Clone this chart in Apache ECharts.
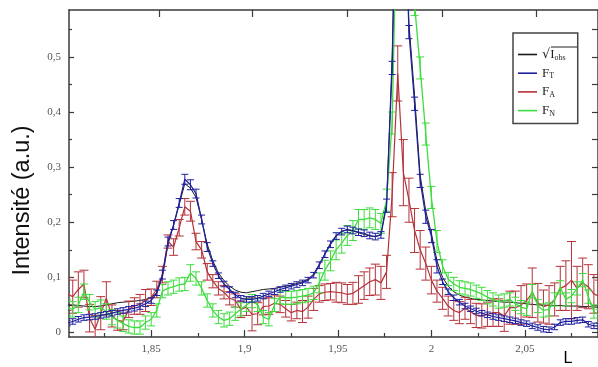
<!DOCTYPE html>
<html><head><meta charset="utf-8">
<script src="https://cdn.jsdelivr.net/npm/echarts@6/dist/echarts.min.js"></script>
<style>html,body{margin:0;padding:0;background:#fff}#c{width:598px;height:367px}</style>
</head><body><div id="c"></div>
<script>
const L = [1.805,1.808,1.811,1.814,1.817,1.820,1.823,1.826,1.829,1.832,
1.835,1.838,1.841,1.844,1.847,1.850,1.853,1.856,1.859,1.862,
1.865,1.868,1.871,1.874,1.877,1.880,1.883,1.886,1.889,1.892,
1.895,1.898,1.901,1.904,1.907,1.910,1.913,1.916,1.919,1.922,
1.925,1.928,1.931,1.934,1.937,1.940,1.943,1.946,1.949,1.952,
1.955,1.958,1.961,1.964,1.967,1.970,1.973,1.976,1.979,1.982,
1.985,1.988,1.991,1.994,1.997,2.000,2.003,2.006,2.009,2.012,
2.015,2.018,2.021,2.024,2.027,2.030,2.033,2.036,2.039,2.042,
2.045,2.048,2.051,2.054,2.057,2.060,2.063,2.066,2.069,2.072,
2.075,2.078,2.081,2.084,2.087,2.090];

const sqrtIobs = [0.050,0.050,0.049,0.048,0.047,0.047,0.048,0.050,0.052,0.054,
0.055,0.056,0.057,0.058,0.060,0.063,0.072,0.100,0.160,0.195,
0.232,0.270,0.262,0.245,0.205,0.160,0.130,0.108,0.094,0.084,
0.077,0.073,0.072,0.074,0.076,0.078,0.079,0.080,0.082,0.084,
0.086,0.089,0.092,0.097,0.106,0.124,0.143,0.162,0.176,0.184,
0.186,0.184,0.181,0.178,0.175,0.174,0.178,0.235,0.500,0.970,
0.900,0.560,0.430,0.285,0.220,0.180,0.130,0.100,0.084,0.074,
0.068,0.064,0.062,0.060,0.059,0.058,0.057,0.056,0.055,0.055,
0.054,0.053,0.052,0.051,0.050,0.050,0.049,0.049,0.049,0.048,
0.048,0.048,0.047,0.047,0.046,0.046];

const FT = [0.017,0.020,0.024,0.027,0.028,0.029,0.031,0.033,0.035,0.038,
0.040,0.042,0.044,0.047,0.052,0.058,0.072,0.105,0.165,0.195,
0.235,0.278,0.268,0.252,0.205,0.155,0.125,0.103,0.088,0.078,
0.068,0.062,0.060,0.060,0.062,0.066,0.070,0.074,0.078,0.081,
0.084,0.087,0.090,0.095,0.104,0.122,0.142,0.160,0.175,0.183,
0.187,0.185,0.182,0.180,0.176,0.174,0.177,0.230,0.480,0.950,
0.850,0.545,0.415,0.275,0.210,0.175,0.120,0.092,0.074,0.063,
0.055,0.048,0.043,0.039,0.035,0.032,0.029,0.027,0.025,0.023,
0.021,0.018,0.016,0.012,0.009,0.006,0.005,0.010,0.018,0.020,
0.020,0.022,0.023,0.015,0.012,0.012];
const FT_err = [0.005,0.005,0.005,0.005,0.005,0.005,0.005,0.005,0.005,0.005,
0.005,0.005,0.005,0.005,0.005,0.005,0.005,0.008,0.008,0.008,
0.008,0.009,0.009,0.008,0.008,0.008,0.005,0.005,0.005,0.005,
0.005,0.005,0.005,0.005,0.005,0.005,0.005,0.005,0.005,0.005,
0.005,0.005,0.005,0.005,0.005,0.006,0.006,0.006,0.006,0.006,
0.006,0.006,0.006,0.006,0.006,0.006,0.006,0.012,0.012,0.012,
0.012,0.012,0.012,0.012,0.012,0.012,0.012,0.005,0.005,0.005,
0.005,0.005,0.005,0.005,0.005,0.005,0.005,0.005,0.005,0.005,
0.005,0.005,0.005,0.005,0.005,0.005,0.005,0.005,0.005,0.005,
0.005,0.005,0.005,0.005,0.005,0.005];

const FA = [0.070,0.065,0.078,0.088,0.026,0.006,0.035,0.062,0.030,0.022,
0.020,0.042,0.048,0.051,0.058,0.064,0.078,0.105,0.165,0.155,
0.190,0.228,0.220,0.165,0.150,0.110,0.093,0.080,0.073,0.062,
0.058,0.042,0.046,0.033,0.034,0.047,0.048,0.053,0.051,0.043,
0.036,0.040,0.038,0.046,0.060,0.070,0.073,0.074,0.073,0.072,
0.069,0.071,0.078,0.085,0.092,0.096,0.090,0.110,0.250,0.470,
0.290,0.240,0.185,0.150,0.125,0.095,0.075,0.062,0.048,0.040,
0.036,0.044,0.038,0.031,0.030,0.033,0.036,0.036,0.030,0.045,
0.045,0.050,0.058,0.072,0.054,0.047,0.050,0.060,0.080,0.085,
0.095,0.080,0.090,0.083,0.070,0.065];
const FA_err = [0.030,0.030,0.032,0.025,0.025,0.025,0.030,0.030,0.020,0.018,
0.015,0.015,0.015,0.018,0.020,0.015,0.015,0.015,0.012,0.015,
0.015,0.015,0.018,0.015,0.015,0.015,0.012,0.012,0.012,0.012,
0.012,0.015,0.015,0.030,0.020,0.015,0.015,0.015,0.015,0.015,
0.015,0.015,0.020,0.020,0.020,0.015,0.015,0.015,0.018,0.018,
0.018,0.020,0.025,0.025,0.025,0.028,0.030,0.030,0.040,0.050,
0.060,0.040,0.040,0.035,0.030,0.025,0.020,0.020,0.018,0.018,
0.020,0.020,0.022,0.022,0.022,0.022,0.025,0.025,0.028,0.030,
0.030,0.035,0.030,0.045,0.035,0.030,0.035,0.030,0.040,0.045,
0.070,0.040,0.045,0.040,0.035,0.030];

const FN = [0.045,0.042,0.050,0.074,0.055,0.042,0.045,0.038,0.028,0.022,
0.016,0.011,0.009,0.009,0.018,0.024,0.040,0.075,0.080,0.083,
0.087,0.088,0.108,0.098,0.080,0.058,0.040,0.028,0.022,0.025,
0.034,0.042,0.050,0.057,0.050,0.028,0.024,0.050,0.064,0.063,
0.063,0.064,0.066,0.068,0.072,0.090,0.113,0.130,0.150,0.162,
0.176,0.185,0.205,0.205,0.208,0.205,0.198,0.240,0.380,0.850,
0.950,0.700,0.595,0.480,0.360,0.245,0.165,0.120,0.097,0.088,
0.082,0.080,0.078,0.074,0.070,0.064,0.060,0.056,0.058,0.060,
0.052,0.046,0.043,0.075,0.048,0.040,0.042,0.060,0.082,0.060,
0.066,0.080,0.095,0.065,0.038,0.030];
const FN_err = [0.014,0.014,0.014,0.014,0.014,0.014,0.014,0.014,0.014,0.014,
0.014,0.012,0.012,0.012,0.012,0.012,0.012,0.012,0.012,0.012,
0.012,0.012,0.015,0.012,0.012,0.012,0.012,0.012,0.012,0.012,
0.012,0.012,0.012,0.012,0.012,0.012,0.012,0.012,0.012,0.012,
0.012,0.012,0.012,0.012,0.012,0.018,0.018,0.018,0.018,0.018,
0.018,0.018,0.018,0.018,0.018,0.018,0.018,0.020,0.020,0.020,
0.020,0.020,0.020,0.020,0.020,0.020,0.020,0.012,0.012,0.012,
0.012,0.012,0.012,0.012,0.012,0.012,0.012,0.012,0.012,0.012,
0.012,0.012,0.012,0.012,0.012,0.012,0.012,0.012,0.012,0.012,
0.012,0.012,0.012,0.012,0.012,0.012];

const xLabelTicks = [1.85, 1.9, 1.95, 2, 2.05];
const xMinorTicks = [1.825, 1.875, 1.925, 1.975, 2.025, 2.075];
const xTopTicks = [1.8545, 1.9042, 1.9549, 2.0056, 2.0563];
const yLabelTicks = [0, 0.1, 0.2, 0.3, 0.4, 0.5];
const yMinorTicks = [0.05, 0.15, 0.25, 0.35, 0.45, 0.55];

const C_BLACK = '#1a1a1a', C_BLUE = '#1f1f9e', C_RED = '#b5323a', C_GREEN = '#3fdc3f';
const comma = v => String(+v.toFixed(3)).replace('.', ',');

function lineSeries(name, vals, color, w, z) {
  return {name, type: 'line', symbol: 'none', z, data: L.map((x, i) => [x, vals[i]]),
    lineStyle: {color, width: w}, itemStyle: {color}, clip: true, animation: false};
}
function errSeries(name, vals, errs, color, cap, z) {
  return {name, type: 'custom', z, clip: true, animation: false,
    data: L.map((x, i) => [x, vals[i] - errs[i], vals[i] + errs[i]]),
    renderItem: function (params, api) {
      const lo = api.coord([api.value(0), api.value(1)]);
      const hi = api.coord([api.value(0), api.value(2)]);
      const h = cap / 2, st = {stroke: color, lineWidth: 1};
      return {type: 'group', children: [
        {type: 'line', shape: {x1: lo[0], y1: lo[1], x2: hi[0], y2: hi[1]}, style: st},
        {type: 'line', shape: {x1: lo[0] - h, y1: lo[1], x2: lo[0] + h, y2: lo[1]}, style: st},
        {type: 'line', shape: {x1: hi[0] - h, y1: hi[1], x2: hi[0] + h, y2: hi[1]}, style: st}
      ]};
    }};
}

const AX = '#3a3a3a';
const XMIN = 1.806, XMAX = 2.0892, YMIN = -0.0082, YMAX = 0.5851;
const chart = echarts.init(document.getElementById('c'), null, {renderer: 'canvas'});
chart.setOption({
  backgroundColor: '#fff',
  animation: false,
  grid: {left: 69, right: -2, top: 10, bottom: 29.5, containLabel: false},
  xAxis: [
    {type: 'value', min: XMIN, max: XMAX, position: 'bottom',
     name: 'L', nameLocation: 'end', nameGap: -30,
     nameTextStyle: {fontFamily: 'Liberation Sans', fontSize: 16, color: '#000', align: 'center', verticalAlign: 'top', padding: [14, 0, 0, 0]},
     axisLine: {show: true, onZero: false, lineStyle: {color: AX, width: 1.5}},
     axisTick: {show: true, inside: true, length: 7, customValues: xLabelTicks, lineStyle: {color: AX, width: 1.2}},
     axisLabel: {show: true, customValues: xLabelTicks, formatter: comma, margin: 7,
       fontFamily: 'Liberation Serif', fontSize: 11, color: '#555'},
     splitLine: {show: false}},
    {type: 'value', min: XMIN, max: XMAX, position: 'bottom',
     axisLine: {show: false, onZero: false},
     axisTick: {show: true, inside: true, length: 4, customValues: xMinorTicks, lineStyle: {color: AX, width: 1.2}},
     axisLabel: {show: false}, splitLine: {show: false}},
    {type: 'value', min: XMIN, max: XMAX, position: 'top',
     axisLine: {show: true, onZero: false, lineStyle: {color: AX, width: 1.5}},
     axisTick: {show: true, inside: true, length: 7, customValues: xTopTicks, lineStyle: {color: AX, width: 1.2}},
     axisLabel: {show: false}, splitLine: {show: false}}
  ],
  yAxis: [
    {type: 'value', min: YMIN, max: YMAX, position: 'left',
     name: 'Intensité (a.u.)', nameLocation: 'middle', nameGap: 34, nameRotate: 90,
     nameTextStyle: {fontFamily: 'Liberation Sans', fontSize: 23.5, color: '#111', padding: [0, 54, 0, 0]},
     axisLine: {show: true, onZero: false, lineStyle: {color: AX, width: 1.5}},
     axisTick: {show: true, inside: true, length: 5, customValues: yLabelTicks, lineStyle: {color: AX, width: 1.2}},
     axisLabel: {show: true, customValues: yLabelTicks, formatter: comma, margin: 8,
       fontFamily: 'Liberation Serif', fontSize: 11, color: '#555'},
     splitLine: {show: false}},
    {type: 'value', min: YMIN, max: YMAX, position: 'left',
     axisLine: {show: false, onZero: false},
     axisTick: {show: true, inside: true, length: 3, customValues: yMinorTicks, lineStyle: {color: AX, width: 1.2}},
     axisLabel: {show: false}, splitLine: {show: false}},
    {type: 'value', min: YMIN, max: YMAX, position: 'right',
     axisLine: {show: true, onZero: false, lineStyle: {color: AX, width: 1.5}},
     axisTick: {show: true, inside: true, length: 6, customValues: yLabelTicks.concat(yMinorTicks), lineStyle: {color: AX, width: 1.2}},
     axisLabel: {show: false}, splitLine: {show: false}}
  ],
  legend: {
    show: true, orient: 'vertical', left: 513, top: 33,
    data: ['√I_obs', 'F_T', 'F_A', 'F_N'],
    icon: 'rect', itemWidth: 19, itemHeight: 1.6, itemGap: 5.2,
    padding: [15, 12, 6, 5],
    borderColor: '#444', borderWidth: 1.5, backgroundColor: '#fff',
    formatter: function (n) {
      return {'√I_obs': '{r|√}{m|I}{s|obs}', 'F_T': '{m|F}{s|T}', 'F_A': '{m|F}{s|A}', 'F_N': '{m|F}{s|N}'}[n];
    },
    textStyle: {fontFamily: 'Liberation Serif', color: '#222', fontSize: 13,
      rich: {
        r: {fontFamily: 'DejaVu Serif', fontSize: 13, color: '#222', lineHeight: 14},
        m: {fontFamily: 'Liberation Serif', fontSize: 13, color: '#222', lineHeight: 14},
        s: {fontFamily: 'Liberation Serif', fontSize: 8, color: '#222', lineHeight: 14, verticalAlign: 'bottom', padding: [5, 0, 0, 0]}
      }}
  },
  graphic: [
    {type: 'line', z: 100, shape: {x1: 551, y1: 47, x2: 577, y2: 47}, style: {stroke: '#222', lineWidth: 1}}
  ],
  series: [
    lineSeries('√I_obs', sqrtIobs, C_BLACK, 1, 2),
    lineSeries('F_A', FA, C_RED, 1.2, 3),
    errSeries('F_A err', FA, FA_err, C_RED, 9, 3),
    lineSeries('F_N', FN, C_GREEN, 1.3, 4),
    errSeries('F_N err', FN, FN_err, C_GREEN, 8, 4),
    lineSeries('F_T', FT, C_BLUE, 1.2, 5),
    errSeries('F_T err', FT, FT_err, C_BLUE, 7, 5)
  ]
});
</script></body></html>
